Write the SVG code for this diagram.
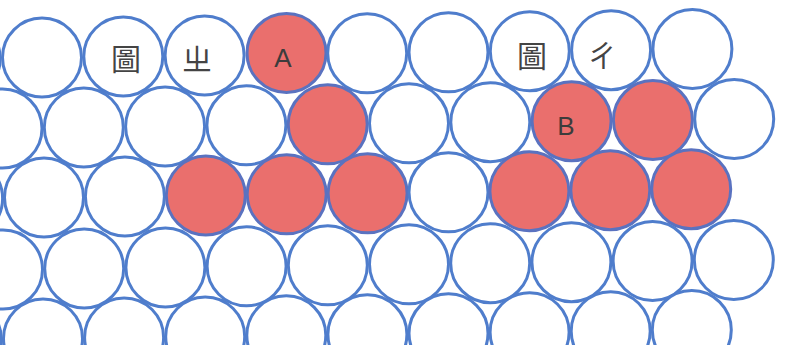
<svg xmlns="http://www.w3.org/2000/svg" width="788" height="345" viewBox="0 0 788 345">
<style>
.c{fill:#ffffff;stroke:#4f7dcc;stroke-width:3}
.r{fill:#ea6f6d;stroke:#5a72c0;stroke-width:3}
.cjk{font-family:"Noto Sans CJK TC","Noto Sans CJK SC",sans-serif;font-size:30px;fill:#444;text-anchor:middle}
.lat{font-family:"Liberation Sans",Arial,sans-serif;font-size:26px;fill:#3c3c3c;text-anchor:middle}
</style>
<rect width="788" height="345" fill="#ffffff"/>
<g id="row1">
<circle class="c" cx="-39.3" cy="58.5" r="39.5"/>
<circle class="c" cx="42" cy="57.5" r="39.5"/>
<circle class="c" cx="123.3" cy="56.4" r="39.5"/>
<circle class="c" cx="204.6" cy="55.4" r="39.5"/>
<circle class="r" cx="286.5" cy="53" r="39.5"/>
<circle class="c" cx="367.2" cy="53.3" r="39.5"/>
<circle class="c" cx="448.5" cy="52.3" r="39.5"/>
<circle class="c" cx="529.8" cy="51.2" r="39.5"/>
<circle class="c" cx="611.1" cy="50.2" r="39.5"/>
<circle class="c" cx="692.4" cy="49.1" r="39.5"/>
</g>
<g id="row2">
<circle class="c" cx="2.5" cy="128.5" r="39.5"/>
<circle class="c" cx="83.8" cy="127.4" r="39.5"/>
<circle class="c" cx="165.1" cy="126.4" r="39.5"/>
<circle class="c" cx="246.4" cy="125.3" r="39.5"/>
<circle class="r" cx="327.7" cy="124.3" r="39.5"/>
<circle class="c" cx="409" cy="123.3" r="39.5"/>
<circle class="c" cx="490.3" cy="122.2" r="39.5"/>
<circle class="r" cx="571.6" cy="121.2" r="39.5"/>
<circle class="r" cx="652.9" cy="120.1" r="39.5"/>
<circle class="c" cx="734.2" cy="119.1" r="39.5"/>
</g>
<g id="row3">
<circle class="c" cx="-36.9" cy="198.5" r="39.5"/>
<circle class="c" cx="44" cy="197.4" r="39.5"/>
<circle class="c" cx="124.9" cy="196.4" r="39.5"/>
<circle class="r" cx="205.8" cy="195.4" r="39.5"/>
<circle class="r" cx="286.7" cy="194.3" r="39.5"/>
<circle class="r" cx="367.6" cy="193.3" r="39.5"/>
<circle class="c" cx="448.5" cy="192.3" r="39.5"/>
<circle class="r" cx="529.4" cy="191.2" r="39.5"/>
<circle class="r" cx="610.3" cy="190.2" r="39.5"/>
<circle class="r" cx="691.2" cy="189.2" r="39.5"/>
</g>
<g id="row4">
<circle class="c" cx="3" cy="269.5" r="39.5"/>
<circle class="c" cx="84.2" cy="268.4" r="39.5"/>
<circle class="c" cx="165.4" cy="267.4" r="39.5"/>
<circle class="c" cx="246.6" cy="266.3" r="39.5"/>
<circle class="c" cx="327.8" cy="265.3" r="39.5"/>
<circle class="c" cx="409" cy="264.3" r="39.5"/>
<circle class="c" cx="490.2" cy="263.2" r="39.5"/>
<circle class="c" cx="571.4" cy="262.2" r="39.5"/>
<circle class="c" cx="652.6" cy="261.1" r="39.5"/>
<circle class="c" cx="733.8" cy="260.1" r="39.5"/>
</g>
<g id="row5">
<circle class="c" cx="-38.1" cy="339.5" r="39.5"/>
<circle class="c" cx="43" cy="338.4" r="39.5"/>
<circle class="c" cx="124.1" cy="337.4" r="39.5"/>
<circle class="c" cx="205.2" cy="336.4" r="39.5"/>
<circle class="c" cx="286.3" cy="335.3" r="39.5"/>
<circle class="c" cx="367.4" cy="334.3" r="39.5"/>
<circle class="c" cx="448.5" cy="333.3" r="39.5"/>
<circle class="c" cx="529.6" cy="332.2" r="39.5"/>
<circle class="c" cx="610.7" cy="331.2" r="39.5"/>
<circle class="c" cx="691.8" cy="330.1" r="39.5"/>
</g>
<g id="labels">
<text class="cjk" x="126" y="70">圖</text>
<text class="cjk" x="197" y="70">ㄓ</text>
<text class="lat" x="283" y="67">A</text>
<text class="cjk" x="532" y="67">圖</text>
<text class="cjk" x="602" y="67">ㄔ</text>
<text class="lat" x="566" y="135">B</text>
</g>
</svg>
